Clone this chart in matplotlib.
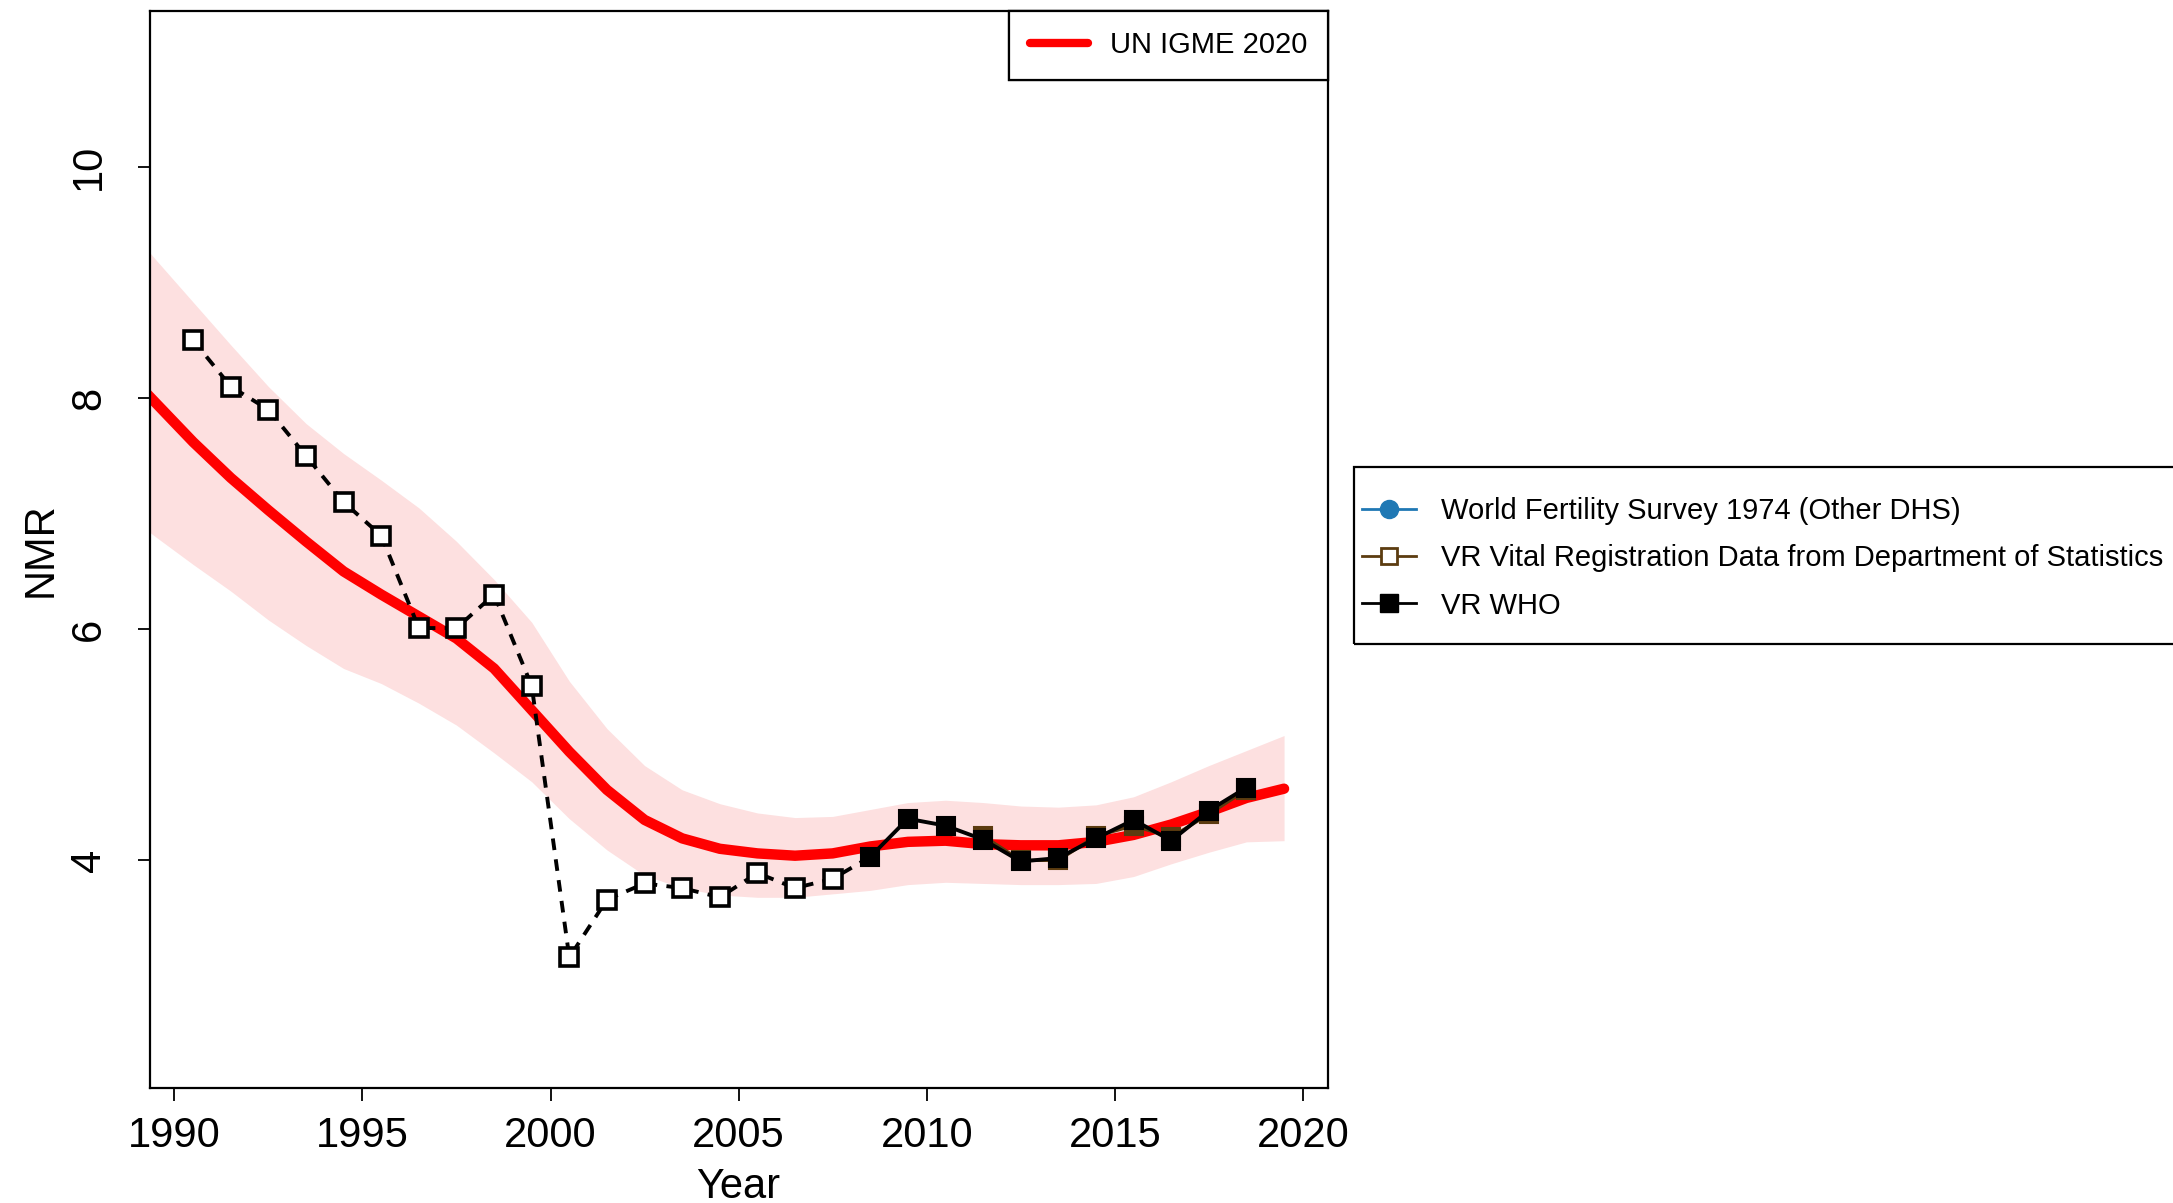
import numpy as np
import matplotlib
matplotlib.use("Agg")
import matplotlib.pyplot as plt
from matplotlib.lines import Line2D
from matplotlib.patches import Rectangle

plt.rcParams['font.family'] = ['Liberation Sans', 'DejaVu Sans']

# UN IGME 2020 estimate with uncertainty band (year mid-points)
est_years = np.arange(1988.5, 2020.0, 1.0)
est_mid = [8.30, 7.96, 7.62, 7.31, 7.03, 6.76, 6.50, 6.30, 6.11, 5.92, 5.66, 5.30,
           4.94, 4.61, 4.35, 4.19, 4.10, 4.06, 4.04, 4.06, 4.12, 4.16, 4.17, 4.14,
           4.13, 4.13, 4.16, 4.22, 4.31, 4.42, 4.54, 4.62]
est_upper = [9.58, 9.20, 8.83, 8.46, 8.10, 7.78, 7.52, 7.29, 7.05, 6.76, 6.43, 6.06,
             5.55, 5.14, 4.82, 4.61, 4.49, 4.41, 4.37, 4.38, 4.44, 4.50, 4.52, 4.50,
             4.47, 4.46, 4.48, 4.55, 4.68, 4.82, 4.95, 5.08]
est_lower = [7.05, 6.80, 6.56, 6.33, 6.08, 5.86, 5.66, 5.53, 5.36, 5.17, 4.93, 4.68,
             4.36, 4.09, 3.87, 3.76, 3.70, 3.68, 3.68, 3.71, 3.74, 3.79, 3.81, 3.80,
             3.79, 3.79, 3.80, 3.86, 3.97, 4.07, 4.16, 4.17]

# VR WHO points excluded from the fit (open squares, dashed)
excl_years = np.arange(1990.5, 2008.0, 1.0)
excl_vals = [8.50, 8.10, 7.90, 7.50, 7.10, 6.81, 6.01, 6.01, 6.30, 5.51,
             3.16, 3.66, 3.80, 3.76, 3.68, 3.89, 3.76, 3.84]

# VR WHO points included
who_years = np.arange(2008.5, 2019.0, 1.0)
who_vals = [4.03, 4.36, 4.30, 4.18, 3.99, 4.02, 4.19, 4.35, 4.17, 4.43, 4.63]

# VR Vital Registration, Department of Statistics
dos_years = np.arange(2011.5, 2019.0, 1.0)
dos_vals = [4.21, 4.00, 4.00, 4.21, 4.30, 4.20, 4.40, 4.61]

brown = '#5c3c10'
blue = '#1f78b4'

fig = plt.figure(figsize=(21.73, 12.03), dpi=100)
ax = fig.add_axes([0.0688, 0.0956, 0.5422, 0.8953])

ax.fill_between(est_years, est_lower, est_upper, color='#fde0e0', lw=0, zorder=1)
ax.plot(est_years, est_mid, color='red', lw=7.5, solid_capstyle='round', zorder=2)

# dashed line runs on to the first included point
ax.plot(np.append(excl_years, who_years[0]), np.append(excl_vals, who_vals[0]),
        color='black', lw=2.8, ls=(0, (3.0, 2.4)), zorder=3)
ax.plot(excl_years, excl_vals, ls='none', marker='s', ms=12.5, mfc='white',
        mec='black', mew=2.6, zorder=4)

ax.plot(dos_years, dos_vals, color=brown, lw=2.4, marker='s', ms=13,
        mfc=brown, mec=brown, mew=1.5, zorder=5)
ax.plot(who_years, who_vals, color='black', lw=2.8, marker='s', ms=13.5,
        mfc='black', mec='black', mew=1.5, zorder=6)

ax.set_xlim(1989.34, 2020.66)
ax.set_ylim(2.03, 11.35)
ax.set_xticks([1990, 1995, 2000, 2005, 2010, 2015, 2020])
ax.set_yticks([4, 6, 8, 10])
ax.tick_params(axis='both', direction='out', length=9, width=1.3, labelsize=30)
ax.tick_params(axis='x', pad=11)
ax.tick_params(axis='y', pad=20)
for lbl in ax.get_yticklabels():
    lbl.set_rotation(90)
    lbl.set_va('center')
for sp in ax.spines.values():
    sp.set_linewidth(1.6)

ax.set_xlabel('Year', fontsize=30, labelpad=8)
ax.set_ylabel('NMR', fontsize=30, labelpad=6)

leg1 = ax.legend([Line2D([], [], color='red', lw=6, solid_capstyle='round')],
                 ['UN IGME 2020'], loc='upper right', bbox_to_anchor=(1, 1),
                 borderaxespad=0, fontsize=21, fancybox=False, framealpha=1,
                 edgecolor='black', handlelength=2.0, handletextpad=0.75,
                 borderpad=0.7)
leg1.get_frame().set_linewidth(1.6)
ax.add_artist(leg1)

# second legend sits outside the axes, its box running off the right edge
fig.add_artist(Rectangle((1354 / 2173, 1 - 644 / 1203), 1.0, 177 / 1203,
                         transform=fig.transFigure, fill=False, ec='black', lw=1.6))
handles = [
    Line2D([], [], color=blue, lw=2, marker='o', ms=13, mfc=blue, mec=blue),
    Line2D([], [], color=brown, lw=2, marker='s', ms=11, mfc='white', mec=brown, mew=2),
    Line2D([], [], color='black', lw=2, marker='s', ms=13, mfc='black', mec='black'),
]
labels = ['World Fertility Survey 1974 (Other DHS)',
          'VR Vital Registration Data from Department of Statistics',
          'VR WHO']
fig.legend(handles, labels, loc='upper left',
           bbox_to_anchor=(1362 / 2173, 1 - 497 / 1203),
           borderaxespad=0, fontsize=21, frameon=False, handlelength=1.85,
           handletextpad=0.85, borderpad=0, labelspacing=0.66)

fig.savefig('out.png', dpi=100)
